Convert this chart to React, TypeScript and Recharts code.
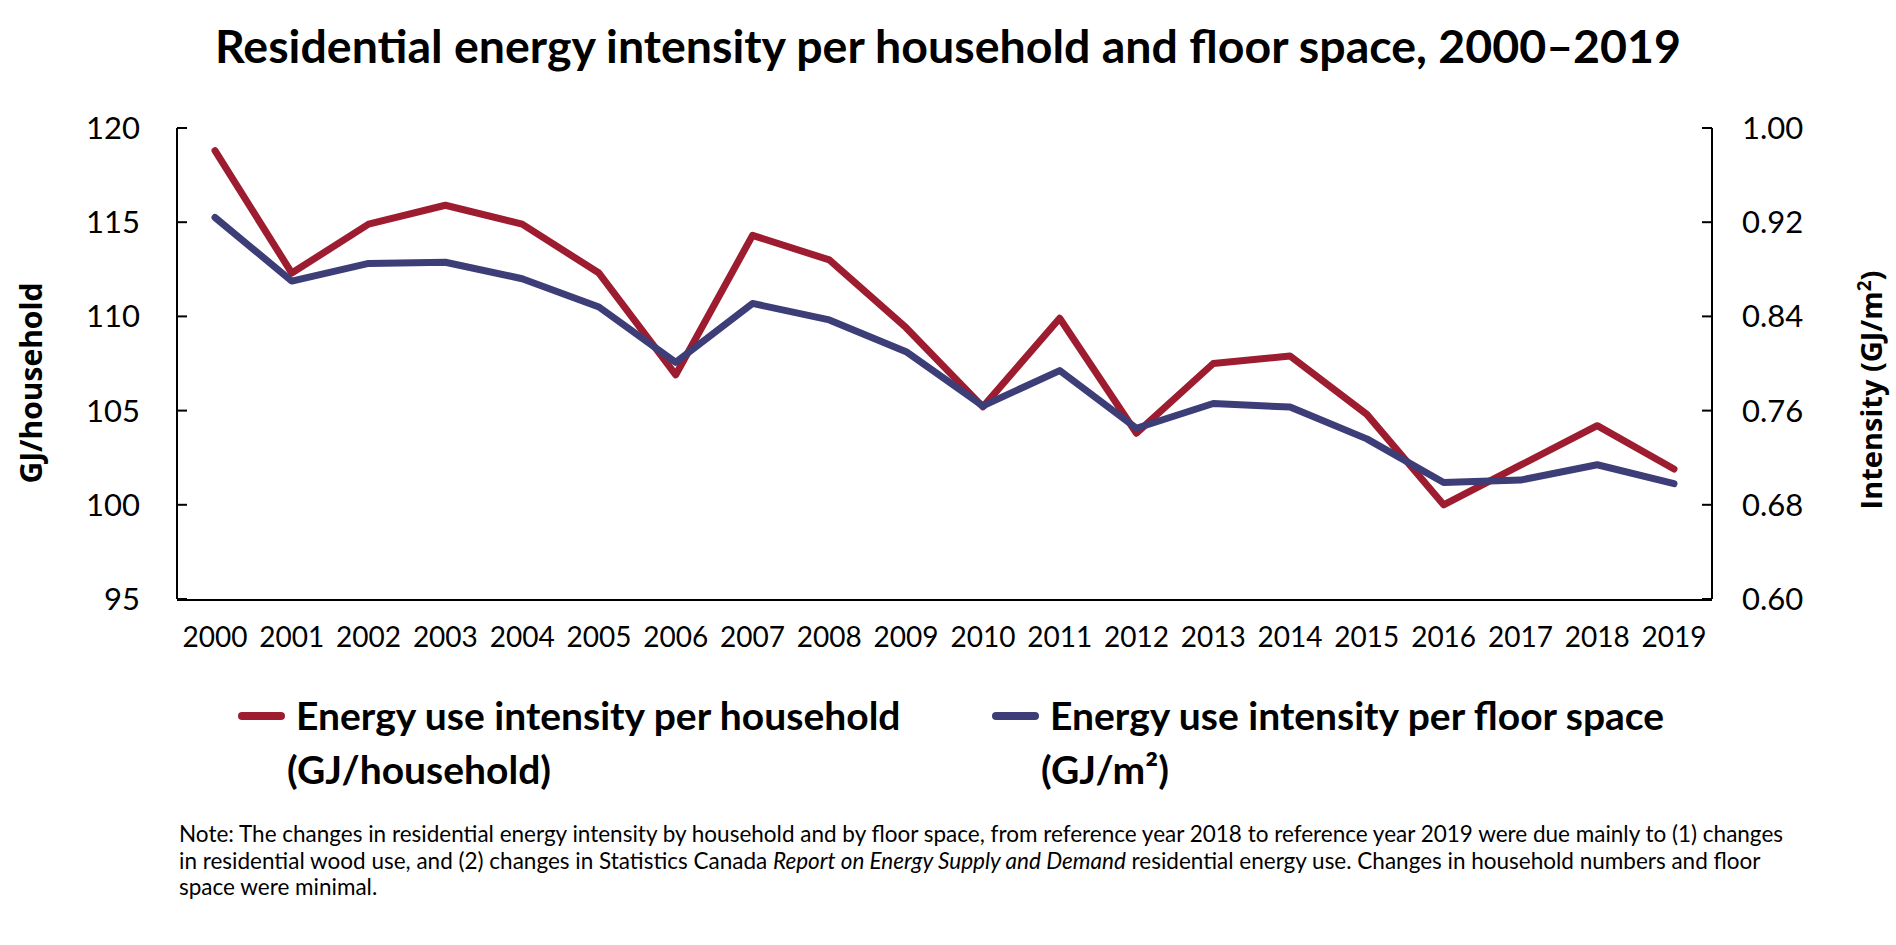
import React from 'react'
import { LineChart, Line, XAxis, YAxis, Legend } from 'recharts'

const years = ['2000', '2001', '2002', '2003', '2004', '2005', '2006', '2007', '2008', '2009', '2010', '2011', '2012', '2013', '2014', '2015', '2016', '2017', '2018', '2019']
// GJ/household
const perHousehold = [118.8, 112.3, 114.9, 115.9, 114.9, 112.3, 106.9, 114.3, 113.0, 109.4, 105.2, 109.9, 103.8, 107.5, 107.9, 104.8, 100.0, 102.1, 104.2, 101.9]
// GJ/m2
const perFloorSpace = [0.924, 0.87, 0.885, 0.886, 0.872, 0.848, 0.801, 0.851, 0.837, 0.81, 0.764, 0.794, 0.745, 0.766, 0.763, 0.736, 0.699, 0.701, 0.714, 0.698]

const leftTicks = [95, 100, 105, 110, 115, 120]
const rightTicks = [0.6, 0.68, 0.76, 0.84, 0.92, 1.0]

const householdName = 'Energy use intensity per household (GJ/household)'
const floorName = 'Energy use intensity per floor space (GJ/m²)'
const legendOrder = ['household', 'floor']

const RED = '#9d1c2f'
const BLUE = '#3d3d78'
const FONT = 'Lato, "Open Sans", sans-serif'

const data = years.map((year, i) => ({
  year,
  household: perHousehold[i],
  floor: perFloorSpace[i],
}))

// tick marks sit between the categories
const boundaryTicks = years.slice(1).map((_, i) => i + 1)

const legendLeft = [238, 992]

function renderLegend(props: any) {
  const payload = [...(props.payload || [])].sort(
    (a: any, b: any) => legendOrder.indexOf(a.dataKey) - legendOrder.indexOf(b.dataKey)
  )
  return (
    <div style={{ position: 'relative', width: 1896, height: 120, fontFamily: FONT, fontWeight: 700, fontSize: 39, color: '#000' }}>
      {payload.map((entry: any, i: number) => {
        const name: string = entry.value
        const cut = name.lastIndexOf(' (')
        const left = legendLeft[i]
        return (
          <div key={name}>
            <div style={{ position: 'absolute', left, top: 32, width: 47, height: 8, borderRadius: 4, background: entry.color }} />
            <div style={{ position: 'absolute', left: left + 58, top: 8, lineHeight: '54px', whiteSpace: 'nowrap' }}>
              <div>{name.slice(0, cut)}</div>
              <div style={{ marginLeft: -9 }}>{name.slice(cut + 1)}</div>
            </div>
          </div>
        )
      })}
    </div>
  )
}

export default function App() {
  return (
    <div style={{ position: 'absolute', left: 0, top: 0, width: 1896, height: 945, background: '#fff', fontFamily: FONT }}>
      <div style={{ position: 'absolute', left: 0, top: 22, width: 1896, textAlign: 'center', fontSize: 46.5, fontWeight: 700, lineHeight: 1, color: '#000' }}>
        Residential energy intensity per household and floor space, 2000–2019
      </div>

      <div style={{ position: 'absolute', left: 30, top: 383, transform: 'translate(-50%, -50%) rotate(-90deg)', fontFamily: '"Open Sans", sans-serif', fontWeight: 700, fontSize: 30, whiteSpace: 'nowrap', color: '#000' }}>
        GJ/household
      </div>
      <div style={{ position: 'absolute', left: 1870, top: 390, transform: 'translate(-50%, -50%) rotate(-90deg)', fontFamily: '"Open Sans", sans-serif', fontWeight: 700, fontSize: 29, whiteSpace: 'nowrap', color: '#000' }}>
        Intensity (GJ/m<sup style={{ fontSize: '0.65em', verticalAlign: '0.55em' }}>2</sup>)
      </div>

      <LineChart width={1896} height={945} data={data} margin={{ top: 128, right: 0, bottom: 344, left: 0 }}>
        <XAxis
          xAxisId="grid"
          type="number"
          domain={[0, years.length]}
          ticks={boundaryTicks}
          allowDataOverflow
          interval={0}
          height={1}
          tick={false}
          tickSize={-10}
          axisLine={{ stroke: '#000', strokeWidth: 2 }}
          tickLine={{ stroke: '#000', strokeWidth: 2 }}
        />
        <XAxis
          xAxisId="cat"
          dataKey="year"
          padding={{ left: 38, right: 38 }}
          interval={0}
          height={1}
          axisLine={false}
          tickLine={false}
          tickSize={0}
          tickMargin={28}
          tick={{ fill: '#000', fontSize: 28, fontFamily: FONT }}
        />
        <YAxis
          yAxisId="left"
          domain={[95, 120]}
          ticks={leftTicks}
          interval={0}
          width={177}
          tickSize={-10}
          tickMargin={47}
          axisLine={{ stroke: '#000', strokeWidth: 2 }}
          tickLine={{ stroke: '#000', strokeWidth: 2 }}
          tick={{ fill: '#000', fontSize: 31, fontFamily: FONT }}
        />
        <YAxis
          yAxisId="right"
          orientation="right"
          domain={[0.6, 1.0]}
          ticks={rightTicks}
          interval={0}
          width={184}
          tickSize={-10}
          tickMargin={40}
          tickFormatter={(v: number) => v.toFixed(2)}
          axisLine={{ stroke: '#000', strokeWidth: 2 }}
          tickLine={{ stroke: '#000', strokeWidth: 2 }}
          tick={{ fill: '#000', fontSize: 31, fontFamily: FONT }}
        />
        <Line
          xAxisId="cat"
          yAxisId="left"
          dataKey="household"
          name={householdName}
          stroke={RED}
          strokeWidth={7}
          strokeLinecap="round"
          strokeLinejoin="round"
          dot={false}
          activeDot={false}
          isAnimationActive={false}
        />
        <Line
          xAxisId="cat"
          yAxisId="right"
          dataKey="floor"
          name={floorName}
          stroke={BLUE}
          strokeWidth={7}
          strokeLinecap="round"
          strokeLinejoin="round"
          dot={false}
          activeDot={false}
          isAnimationActive={false}
        />
        <Legend
          verticalAlign="middle"
          layout="horizontal"
          content={renderLegend}
          wrapperStyle={{ position: 'absolute', left: 0, top: 680, width: 1896, height: 120 }}
        />
      </LineChart>

      <div style={{ position: 'absolute', left: 179, top: 821, fontSize: 22.5, lineHeight: '26.5px', color: '#000', whiteSpace: 'nowrap' }}>
        <div>Note: The changes in residential energy intensity by household and by floor space, from reference year 2018 to reference year 2019 were due mainly to (1) changes</div>
        <div>in residential wood use, and (2) changes in Statistics Canada <i>Report on Energy Supply and Demand</i> residential energy use. Changes in household numbers and floor</div>
        <div>space were minimal.</div>
      </div>
    </div>
  )
}
